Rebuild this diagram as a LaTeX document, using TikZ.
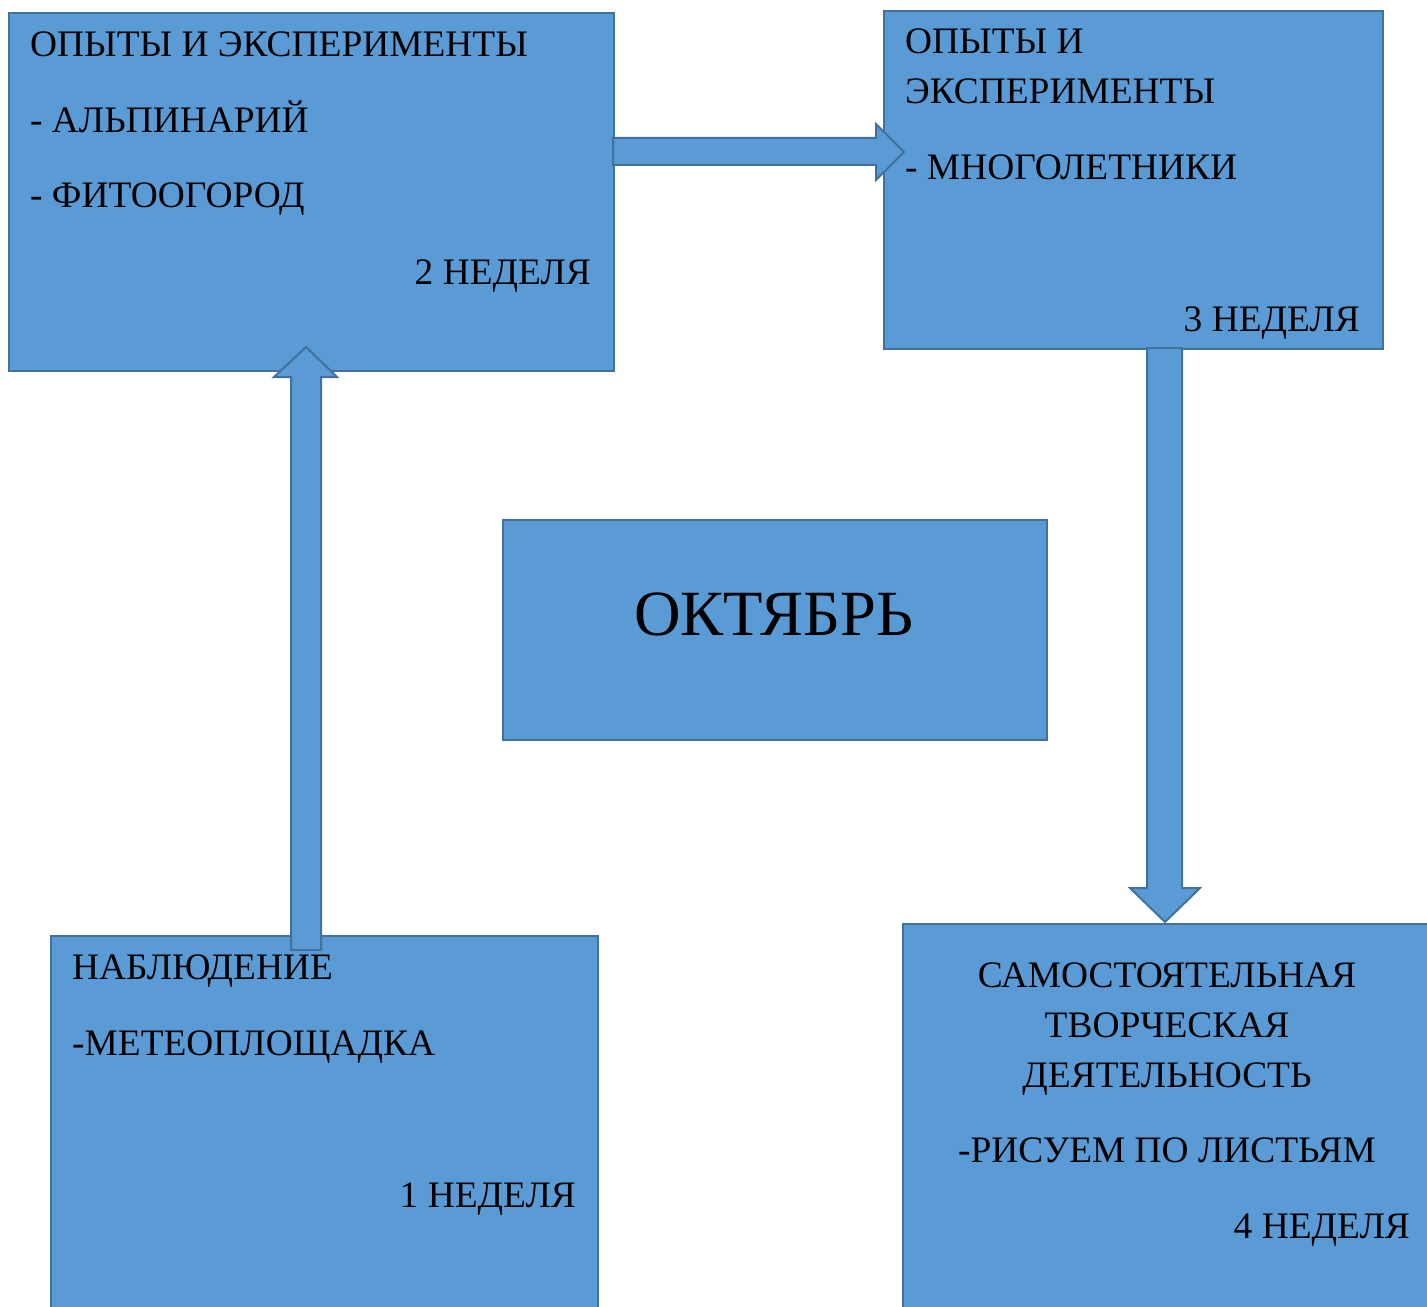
\documentclass[tikz,border=0pt]{standalone}
\usepackage{fontspec}
\setmainfont{Liberation Serif}
\definecolor{boxfill}{HTML}{5B9BD5}
\definecolor{boxline}{HTML}{41719C}
\begin{document}
\begin{tikzpicture}[x=1bp,y=-1bp,
  box/.style={draw=boxline, fill=boxfill, line width=2bp, rectangle, inner sep=0pt, anchor=north west},
  blockarrow/.style={draw=boxline, fill=boxfill, line width=2bp, line join=miter},
  txt/.style={inner sep=0pt, font=\fontsize{37.4bp}{40bp}\selectfont},
  big/.style={inner sep=0pt, font=\fontsize{64.5bp}{70bp}\selectfont}]
\clip (0,0) rectangle (1427,1307);
\fill[white] (0,0) rectangle (1427,1307);
% boxes
\node[box, minimum width=605bp, minimum height=358bp] (b1) at (8,12) {};
\node[box, minimum width=499bp, minimum height=338bp] (b2) at (883,10) {};
\node[box, minimum width=544bp, minimum height=220bp] (bc) at (502,519) {};
\node[box, minimum width=547bp, minimum height=400bp] (b3) at (50,935) {};
\node[box, minimum width=540bp, minimum height=400bp] (b4) at (902,923) {};
% arrows
\draw[blockarrow] (613,138) -- (876,138) -- (876,124) -- (904,152) -- (876,180) -- (876,165) -- (613,165) -- cycle;
\draw[blockarrow] (291,950) -- (291,377) -- (274,377) -- (306,347) -- (337,377) -- (321,377) -- (321,950) -- cycle;
\draw[blockarrow] (1147,348) -- (1147,888) -- (1130,888) -- (1165,922) -- (1200,888) -- (1182,888) -- (1182,348) -- cycle;
% texts box 1
\node[txt, anchor=base west] (t11) at (30,57) {ОПЫТЫ И ЭКСПЕРИМЕНТЫ};
\node[txt, anchor=base west] (t12) at (30,133) {- АЛЬПИНАРИЙ};
\node[txt, anchor=base west] (t13) at (30,208) {- ФИТООГОРОД};
\node[txt, anchor=base east] (t14) at (591,285) {2 НЕДЕЛЯ};
% texts box 2
\node[txt, anchor=base west] (t21) at (905,54) {ОПЫТЫ И};
\node[txt, anchor=base west] (t22) at (905,104) {ЭКСПЕРИМЕНТЫ};
\node[txt, anchor=base west] (t23) at (905,180) {- МНОГОЛЕТНИКИ};
\node[txt, anchor=base east] (t24) at (1360,332) {3 НЕДЕЛЯ};
% centre
\node[big, anchor=base] (tc) at (774,635) {ОКТЯБРЬ};
% texts box 3
\node[txt, anchor=base west] (t31) at (72,979) {НАБЛЮДЕНИЕ};
\node[txt, anchor=base west] (t32) at (72,1055) {-МЕТЕОПЛОЩАДКА};
\node[txt, anchor=base east] (t33) at (576,1207) {1 НЕДЕЛЯ};
% texts box 4
\node[txt, anchor=base] (t41) at (1167,987) {САМОСТОЯТЕЛЬНАЯ};
\node[txt, anchor=base] (t42) at (1167,1037) {ТВОРЧЕСКАЯ};
\node[txt, anchor=base] (t43) at (1167,1087) {ДЕЯТЕЛЬНОСТЬ};
\node[txt, anchor=base] (t44) at (1167,1162) {-РИСУЕМ ПО ЛИСТЬЯМ};
\node[txt, anchor=base east] (t45) at (1410,1238) {4 НЕДЕЛЯ};
\end{tikzpicture}
\end{document}
